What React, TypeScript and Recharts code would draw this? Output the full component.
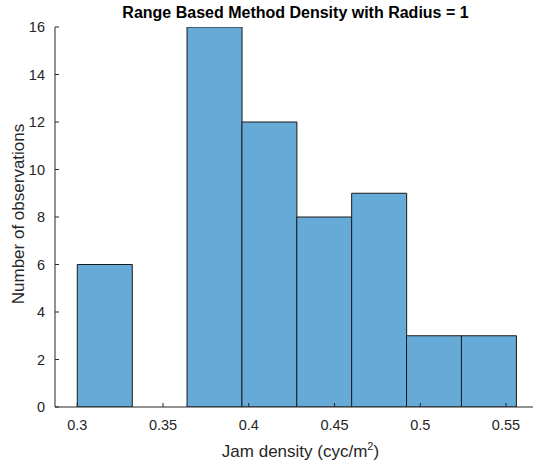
import {
    ComposedChart,
    Bar,
    XAxis,
    YAxis,
    Label,
} from "recharts";

// Bin centres (bin width 0.032, first edge at 0.3) and counts
const binCenters = [0.316, 0.348, 0.38, 0.412, 0.444, 0.476, 0.508, 0.54];
const binCounts = [6, 0, 16, 12, 8, 9, 3, 3];

const xTicks = [0.3, 0.35, 0.4, 0.45, 0.5, 0.55];
const yTicks = [0, 2, 4, 6, 8, 10, 12, 14, 16];

const TITLE = "Range Based Method Density with Radius = 1";
const X_LABEL = "Jam density (cyc/m";
const Y_LABEL = "Number of observations";

// MATLAB-ish look
const COLORS = {
    bar: "#66AAD7",
    edge: "#1a1a1a",
    axis: "#262626",
    text: "#262626",
};
const FONT = "'Liberation Sans', Arial, Helvetica, sans-serif";

const data = binCenters.map((mid, i) => ({ mid, count: binCounts[i] }));

const X_DOMAIN: [number, number] = [0.287, 0.5675];
const Y_DOMAIN: [number, number] = [0, 16];

const noTick = () => <g />;

function XAxisLabel({ viewBox }: any) {
    const cx = viewBox.x + viewBox.width / 2 + 5;
    const y = viewBox.y + 50;
    return (
        <text x={cx} y={y} textAnchor="middle" fill={COLORS.text} fontSize={17} fontFamily={FONT}>
            {X_LABEL}
            <tspan dy={-7} fontSize={11}>2</tspan>
            <tspan dy={7}>)</tspan>
        </text>
    );
}

function YAxisLabel({ viewBox }: any) {
    const x = viewBox.x + 18;
    const cy = viewBox.y + viewBox.height / 2 - 3;
    return (
        <text
            x={x}
            y={cy}
            textAnchor="middle"
            dominantBaseline="central"
            transform={`rotate(-90, ${x}, ${cy})`}
            fill={COLORS.text}
            fontSize={17}
            fontFamily={FONT}
        >
            {Y_LABEL}
        </text>
    );
}

export default function App() {
    const tickStyle = { fill: COLORS.text, fontSize: 14.5, fontFamily: FONT };
    return (
        <div style={styles.page}>
            <div style={styles.title}>{TITLE}</div>
            <ComposedChart
                width={540}
                height={461}
                data={data}
                margin={{ top: 27, right: 4, bottom: 0, left: 0 }}
                barCategoryGap={0}
                barGap={0}
            >
                <XAxis
                    xAxisId="bottom"
                    dataKey="mid"
                    type="number"
                    domain={X_DOMAIN}
                    allowDataOverflow
                    ticks={xTicks}
                    tickFormatter={(v: number) => String(v)}
                    height={54}
                    tickSize={-4}
                    tickMargin={17}
                    tick={tickStyle}
                    stroke={COLORS.axis}
                    label={<Label content={<XAxisLabel />} />}
                />
                <XAxis
                    xAxisId="top"
                    orientation="top"
                    type="number"
                    domain={X_DOMAIN}
                    allowDataOverflow
                    ticks={xTicks}
                    height={0}
                    tickSize={-4}
                    tick={noTick}
                    stroke={COLORS.axis}
                />
                <YAxis
                    yAxisId="left"
                    type="number"
                    domain={Y_DOMAIN}
                    allowDataOverflow
                    ticks={yTicks}
                    width={55}
                    tickSize={-4}
                    tickMargin={14}
                    tick={tickStyle}
                    stroke={COLORS.axis}
                    label={<Label content={<YAxisLabel />} />}
                />
                <YAxis
                    yAxisId="right"
                    orientation="right"
                    type="number"
                    domain={Y_DOMAIN}
                    allowDataOverflow
                    ticks={yTicks}
                    width={0}
                    tickSize={-4}
                    tick={noTick}
                    stroke={COLORS.axis}
                />
                <Bar
                    xAxisId="bottom"
                    yAxisId="left"
                    dataKey="count"
                    fill={COLORS.bar}
                    stroke={COLORS.edge}
                    strokeWidth={1}
                    isAnimationActive={false}
                />
            </ComposedChart>
        </div>
    );
}

const styles: Record<string, React.CSSProperties> = {
    page: {
        position: "fixed",
        left: 0,
        top: 0,
        width: 533,
        height: 461,
        overflow: "hidden",
        background: "#fff",
    },
    title: {
        position: "absolute",
        left: 55,
        width: 481,
        top: 4,
        lineHeight: "17px",
        textAlign: "center",
        fontFamily: FONT,
        fontWeight: "bold",
        fontSize: 16,
        color: "#000",
        zIndex: 1,
    },
};
